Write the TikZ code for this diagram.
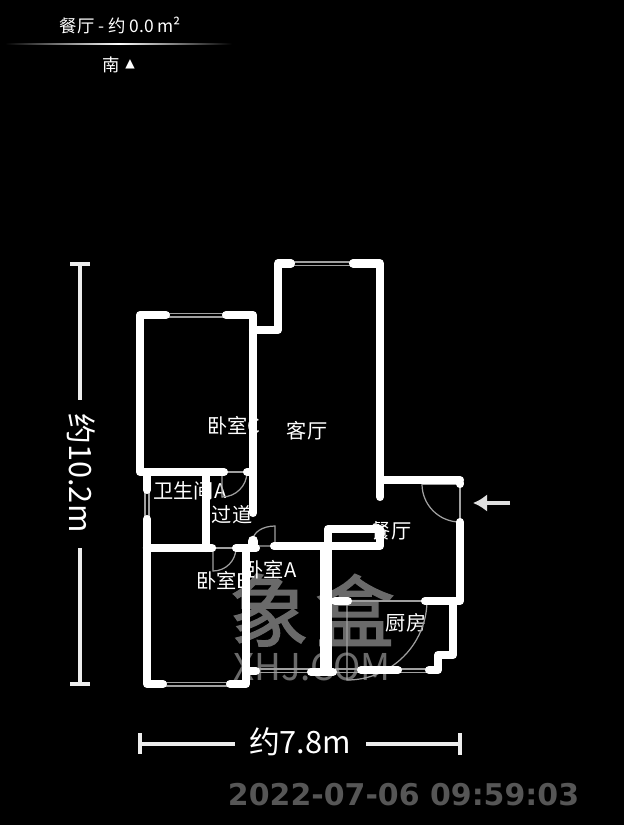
\documentclass[tikz,border=0pt]{standalone}
\usepackage{fontspec}
\setmainfont{Noto Sans CJK SC}
\newfontfamily\datefont{DejaVu Sans}
\newfontfamily\markfont[FakeBold=2]{Noto Sans CJK SC}
\usetikzlibrary{arrows.meta}
\definecolor{markgray}{HTML}{6A6A6A}
\definecolor{sillgray}{HTML}{A0A0A0}
\definecolor{dategray}{HTML}{565656}
\tikzstyle{roomtext} = [text=white, inner sep=0pt, font=\fontsize{11.5pt}{13pt}\selectfont]
\tikzstyle{title} = [text=white, inner sep=0pt, font=\fontsize{9.9pt}{11pt}\selectfont]
\tikzstyle{dimtext} = [text=white, inner sep=0pt, font=\fontsize{17.5pt}{19pt}\selectfont]
\tikzstyle{marktext} = [text=markgray, inner sep=0pt, font=\markfont\fontsize{45pt}{48pt}\selectfont]
\tikzstyle{wall} = [white, line width=4.6pt, line cap=round, line join=round]
\tikzstyle{sill} = [sillgray, line width=0.7pt]
\tikzstyle{dimline} = [white!93!black, line width=2.1pt]
\tikzstyle{arrow} = [white!88!black, line width=2.4pt, -{Latex[length=8pt,width=10pt]}]
\begin{document}
\begin{tikzpicture}[x=0.02cm, y=-0.02cm]
						\fill[black] (0,0) rectangle (624,825);
						\useasboundingbox (0,0) rectangle (624,825);
						% heading
						\node (head) at (120.5,25) [title] {餐厅 - 约 0.0 m²};
						\shade[left color=black, right color=black, middle color=white] (5,43.7) rectangle (232,44.5);
						\node (south) at (111,65) [title] {南};
						\node (tip) at (130,64) [title, font=\datefont\fontsize{7pt}{8pt}\selectfont] {▲};
						% watermark
						\node (markA) at (269,610) [marktext] {象};
						\node (markB) at (355,610) [marktext] {盒};
						\node (markC) at (312,667) [marktext, font=\fontsize{21pt}{23pt}\selectfont] {XHJ.COM};
						% room labels
						\node (r1) at (234,426) [roomtext] {卧室C};
						\node (r2) at (307,431) [roomtext] {客厅};
						\node (r3) at (190,491) [roomtext] {卫生间A};
						\node (r4) at (232,515) [roomtext] {过道};
						\node (r5) at (223,581) [roomtext] {卧室B};
						\node (r6) at (270,570) [roomtext] {卧室A};
						\node (r7) at (391,531) [roomtext] {餐厅};
						\node (r8) at (406,623) [roomtext] {厨房};
						% windows
						\draw[sill] (293,262) -- (353,262);
						\draw[sill] (293,265.5) -- (353,265.5);
						\draw[sill] (168,313.5) -- (225,313.5);
						\draw[sill] (168,317) -- (225,317);
						\draw[sill] (145,492) -- (145,517);
						\draw[sill] (149,492) -- (149,517);
						\draw[sill] (165,682.5) -- (228,682.5);
						\draw[sill] (165,686) -- (228,686);
						\draw[sill] (255,669) -- (312,669);
						\draw[sill] (255,672.5) -- (312,672.5);
						\draw[sill] (335,669) -- (428,669);
						\draw[sill] (335,672.5) -- (428,672.5);
						% doors
						\draw[sill] (225,472) -- (246,472);
						\draw[sill] (222,472) -- (222,497) arc (90:0:25);
						\draw[sill] (213,548) -- (237,548);
						\draw[sill] (213,548) -- (213,571) arc (90:0:23);
						\draw[sill] (253,540) arc (180:270:22 and 14) -- (275,546) -- (258,546);
						\draw[sill] (422,484) arc (180:90:38);
						\draw[sill] (422,484) -- (460,484);
						\draw[sill] (460,482) -- (460,522);
						\draw[sill] (350,601) -- (425,601);
						\draw[sill] (347,600) -- (347,680) arc (90:0:80);
						% walls
						\draw[wall] (353,263.5) -- (380,263.5) -- (380,497);
						\draw[wall] (291,263.5) -- (278,263.5) -- (278,330) -- (253,330);
						\draw[wall] (166,315) -- (140,315) -- (140,472) -- (224,472);
						\draw[wall] (226,315) -- (253,315) -- (253,513);
						\draw[wall] (247,472) -- (250,472);
						\draw[wall] (147,475) -- (147,490);
						\draw[wall] (147,519) -- (147,684) -- (163,684);
						\draw[wall] (230,684) -- (246,684) -- (246,548);
						\draw[wall, line width=4.8pt] (147,548) -- (212,548);
						\draw[wall] (206,476) -- (206,548);
						\draw[wall] (236,548) -- (256,548);
						\draw[wall, line width=6pt] (253,541) -- (253,544);
						\draw[wall] (250,671) -- (256,671);
						\draw[wall] (274,546) -- (380,546) -- (380,529) -- (328,529) -- (328,546);
						\draw[wall, line width=6.8pt, line cap=butt] (326,546) -- (326,672);
						\draw[wall] (311,672) -- (333,672);
						\draw[wall] (335,601) -- (348,601);
						\draw[wall] (381,480) -- (460,480);
						\draw[wall] (460,483) -- (460,484);
						\draw[wall] (460,522) -- (460,601) -- (425,601);
						\draw[wall] (453,601) -- (453,655) -- (438,655) -- (438,670) -- (429,670);
						\draw[wall] (361,670) -- (398,670);
						% entrance arrow
						\coordinate (arrowA) at (510,503);
						\coordinate (arrowB) at (473,503);
						\draw[arrow] (arrowA) -- (arrowB);
						% dimensions
						\node (dimV) at (81,473) [dimtext, rotate=-90] {约10.2m};
						\node (dimH) at (300,742) [dimtext] {约7.8m};
						\coordinate (topV) at (80,264);
						\coordinate (lowV) at (80,684);
						\coordinate (leftH) at (140,744);
						\coordinate (rightH) at (460,744);
						\draw[dimline] (topV) -- (80,400);
						\draw[dimline] (80,548) -- (lowV);
						\draw[dimline] (70,264) -- (90,264);
						\draw[dimline] (70,684) -- (90,684);
						\draw[dimline] (leftH) -- (235,744);
						\draw[dimline] (366,744) -- (rightH);
						\draw[dimline] (140,733) -- (140,754);
						\draw[dimline] (460,733) -- (460,755);
						% time stamp
						\node (stamp) at (403.5,795) [text=dategray, inner sep=0pt, font=\datefont\bfseries\fontsize{17.05pt}{19pt}\selectfont] {2022-07-06 09:59:03};
					\end{tikzpicture}
\end{document}
